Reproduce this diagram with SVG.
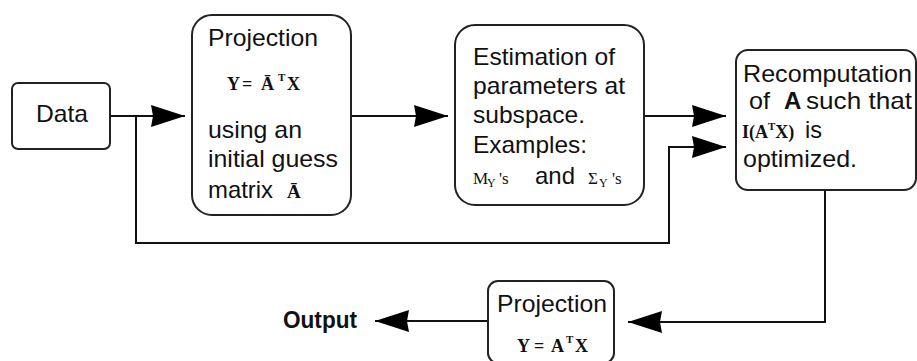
<svg xmlns="http://www.w3.org/2000/svg" width="917" height="361" viewBox="0 0 917 361">
<style>
.box{fill:#fff;stroke:#222;stroke-width:2}
.ln{fill:none;stroke:#111;stroke-width:2}
.t{font-family:"Liberation Sans",Arial,sans-serif;font-size:24px;fill:#111}
.m{font-family:"Liberation Serif","Times New Roman",serif;font-weight:bold;fill:#111}
.s{font-family:"Liberation Serif","Times New Roman",serif;fill:#111}
</style>
<defs>
<marker id="ah" markerUnits="userSpaceOnUse" markerWidth="34" markerHeight="24" viewBox="0 0 34 24" refX="34" refY="12" orient="auto">
<path d="M0,1 L34,12 L0,23 L2,12 Z" fill="#000"/>
</marker>
</defs>
<g id="connectors">
<line class="ln" x1="110" y1="116" x2="185" y2="116" marker-end="url(#ah)"/>
<polyline class="ln" points="136,116 136,243 669,243 669,147 726,147" marker-end="url(#ah)"/>
<line class="ln" x1="351" y1="116" x2="448" y2="116" marker-end="url(#ah)"/>
<line class="ln" x1="644" y1="116" x2="726" y2="116" marker-end="url(#ah)"/>
<polyline class="ln" points="825,190 825,322 628,322" marker-end="url(#ah)"/>
<line class="ln" x1="488" y1="321" x2="375" y2="321" marker-end="url(#ah)"/>
</g>
<g id="data">
<rect class="box" x="12" y="83" width="98" height="66" rx="6"/>
<text class="t" x="36" y="122" textLength="52" lengthAdjust="spacingAndGlyphs">Data</text>
</g>
<g id="projection1">
<rect class="box" x="192" y="15" width="159" height="200" rx="20"/>
<text class="t" x="208" y="46" textLength="110" lengthAdjust="spacingAndGlyphs">Projection</text>
<text class="m" font-size="18" y="90"><tspan x="227">Y</tspan><tspan x="242">=</tspan><tspan x="261">Ā</tspan><tspan x="278" dy="-9" font-size="11">T</tspan><tspan x="287" dy="9">X</tspan></text>
<text class="t" x="208" y="138" textLength="94" lengthAdjust="spacingAndGlyphs">using an</text>
<text class="t" x="208" y="167" textLength="130" lengthAdjust="spacingAndGlyphs">initial guess</text>
<text class="t" x="208" y="198" textLength="65" lengthAdjust="spacingAndGlyphs">matrix</text>
<text class="m" font-size="19" x="287" y="198">Ā</text>
</g>
<g id="estimation">
<rect class="box" x="455" y="25" width="189" height="180" rx="20"/>
<text class="t" x="473" y="65" textLength="142" lengthAdjust="spacingAndGlyphs">Estimation of</text>
<text class="t" x="473" y="94" textLength="152" lengthAdjust="spacingAndGlyphs">parameters at</text>
<text class="t" x="473" y="123" textLength="112" lengthAdjust="spacingAndGlyphs">subspace.</text>
<text class="t" x="473" y="153" textLength="114" lengthAdjust="spacingAndGlyphs">Examples:</text>
<text class="s" font-size="17" y="184"><tspan x="473">M</tspan><tspan x="487" dy="3" font-size="12">Y</tspan><tspan x="499" dy="-3">'s</tspan></text>
<text class="t" x="535" y="184" textLength="40" lengthAdjust="spacingAndGlyphs">and</text>
<text class="s" font-size="17" y="184"><tspan x="588">Σ</tspan><tspan x="599" dy="3" font-size="12">Y</tspan><tspan x="612" dy="-3">'s</tspan></text>
</g>
<g id="recomputation">
<rect class="box" x="736" y="50" width="180" height="140" rx="12"/>
<text class="t" x="743" y="82" textLength="169" lengthAdjust="spacingAndGlyphs">Recomputation</text>
<text class="t" x="749" y="109" textLength="21" lengthAdjust="spacingAndGlyphs">of</text>
<text class="t" x="784" y="109" font-weight="bold">A</text>
<text class="t" x="806" y="109" textLength="106" lengthAdjust="spacingAndGlyphs">such that</text>
<text class="m" font-size="18" y="138"><tspan x="742">I(A</tspan><tspan dy="-8" font-size="11">T</tspan><tspan dy="8">X)</tspan></text>
<text class="t" x="805" y="138" textLength="17" lengthAdjust="spacingAndGlyphs">is</text>
<text class="t" x="743" y="167" textLength="114" lengthAdjust="spacingAndGlyphs">optimized.</text>
</g>
<g id="projection2">
<rect class="box" x="488" y="281" width="126" height="82" rx="10"/>
<text class="t" x="497" y="312" textLength="110" lengthAdjust="spacingAndGlyphs">Projection</text>
<text class="m" font-size="18" y="352"><tspan x="517">Y</tspan><tspan x="534">=</tspan><tspan x="551">A</tspan><tspan x="566" dy="-9" font-size="11">T</tspan><tspan x="575" dy="9">X</tspan></text>
</g>
<g id="output">
<text class="t" x="283" y="328" font-weight="bold" font-size="21" textLength="74" lengthAdjust="spacingAndGlyphs">Output</text>
</g>
</svg>
